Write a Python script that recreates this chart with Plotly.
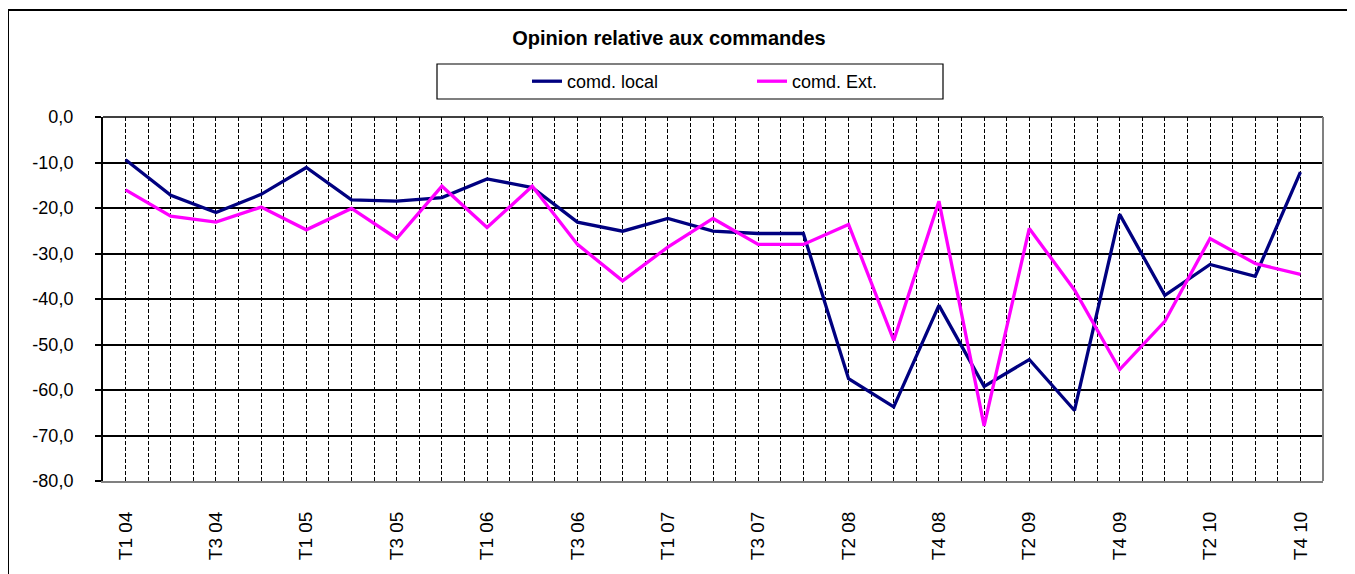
import plotly.graph_objects as go

quarters = ["T1 04", "T2 04", "T3 04", "T4 04",
            "T1 05", "T2 05", "T3 05", "T4 05",
            "T1 06", "T2 06", "T3 06", "T4 06",
            "T1 07", "T2 07", "T3 07", "T4 07",
            "T2 08", "T3 08", "T4 08",
            "T1 09", "T2 09", "T3 09", "T4 09",
            "T1 10", "T2 10", "T3 10", "T4 10"]

comd_local = [-9.4, -17.2, -21.0, -17.0, -11.1, -18.2, -18.5, -17.7, -13.6, -15.5,
              -23.1, -25.1, -22.3, -25.1, -25.6, -25.6, -57.5, -63.7, -41.4, -59.2,
              -53.3, -64.5, -21.4, -39.2, -32.4, -35.0, -12.1]

comd_ext = [-16.0, -21.8, -23.1, -19.8, -24.8, -20.1, -26.7, -15.2, -24.3, -15.2,
            -28.0, -36.0, -28.6, -22.3, -28.0, -28.0, -23.6, -49.1, -18.5, -67.9,
            -24.5, -38.0, -55.5, -44.9, -26.7, -32.2, -34.6]

y_ticks = [0, -10, -20, -30, -40, -50, -60, -70, -80]
y_labels = ["0,0", "-10,0", "-20,0", "-30,0", "-40,0", "-50,0", "-60,0", "-70,0", "-80,0"]

FONT = "Liberation Sans, Arial, sans-serif"
W, H = 1355, 574
OFF = 8  # page body margin
# desired plot area in screenshot coordinates
PL, PR, PT, PB = 103, 1323, 117, 481
ML, MT = PL - OFF, PT - OFF
MR, MB = W - (PR - OFF), H - (PB - OFF)
PW, PH = W - ML - MR, H - MT - MB


def px(x):
    return (x - PL) / PW


def py(y):
    return (PB - y) / PH


xs = list(range(len(quarters)))

fig = go.Figure()
fig.add_trace(go.Scatter(x=xs, y=comd_local, mode="lines", name="comd. local",
                         line=dict(color="#000080", width=3.3)))
fig.add_trace(go.Scatter(x=xs, y=comd_ext, mode="lines", name="comd. Ext.",
                         line=dict(color="#FF00FF", width=3.3)))

major = xs[::2]
minor_vals = [i / 2 for i in range(0, 2 * (len(xs) - 1) + 1) if (i / 2) not in major]

fig.update_xaxes(
    range=[-0.5, len(xs) - 0.5],
    tickmode="array", tickvals=major, ticktext=quarters[::2],
    tickangle=-90, ticks="", ticklabelstandoff=21,
    tickfont=dict(family=FONT, size=19, color="black"),
    showgrid=True, gridcolor="black", gridwidth=1, griddash="4px,2px",
    minor=dict(tickmode="array", tickvals=minor_vals, showgrid=True,
               gridcolor="black", gridwidth=1, griddash="4px,2px", ticks=""),
    showline=True, linecolor="#808080", linewidth=2,
    zeroline=False, fixedrange=True,
)
fig.update_yaxes(
    range=[-80, 0],
    tickmode="array", tickvals=y_ticks, ticktext=y_labels,
    ticks="outside", ticklen=6, tickwidth=1.5, tickcolor="black",
    ticklabelstandoff=18,
    tickfont=dict(family=FONT, size=18, color="black"),
    showgrid=True, gridcolor="black", gridwidth=1.5,
    showline=True, linecolor="black", linewidth=2,
    zeroline=False, fixedrange=True,
)

shapes = [
    dict(type="line", xref="paper", yref="paper", x0=0, x1=1, y0=1, y1=1,
         line=dict(color="black", width=1.5)),
    dict(type="line", xref="paper", yref="paper", x0=1, x1=1, y0=0, y1=1,
         line=dict(color="#808080", width=2)),
    dict(type="line", xref="paper", yref="paper", x0=px(8), x1=px(8), y0=py(10), y1=py(600),
         line=dict(color="black", width=2)),
    dict(type="line", xref="paper", yref="paper", x0=px(8), x1=px(1400), y0=py(10), y1=py(10),
         line=dict(color="black", width=2)),
    dict(type="rect", xref="paper", yref="paper", x0=px(437), x1=px(943), y0=py(99), y1=py(64),
         line=dict(color="black", width=1.2), fillcolor="rgba(0,0,0,0)"),
]

fig.update_layout(
    width=W, height=H,
    margin=dict(l=ML, r=MR, t=MT, b=MB),
    paper_bgcolor="white", plot_bgcolor="white",
    title=dict(text="<b>Opinion relative aux commandes</b>", x=(669 - OFF) / W, xanchor="center",
               y=1 - (38 - OFF) / H, yanchor="middle",
               font=dict(family=FONT, size=20, color="black")),
    legend=dict(orientation="h", x=px(527), xanchor="left", y=py(81.5), yanchor="middle",
                bgcolor="rgba(0,0,0,0)", borderwidth=0,
                entrywidth=180, entrywidthmode="pixels",
                font=dict(family=FONT, size=18, color="black")),
    shapes=shapes,
    showlegend=True,
)

fig.write_html("out.html")
